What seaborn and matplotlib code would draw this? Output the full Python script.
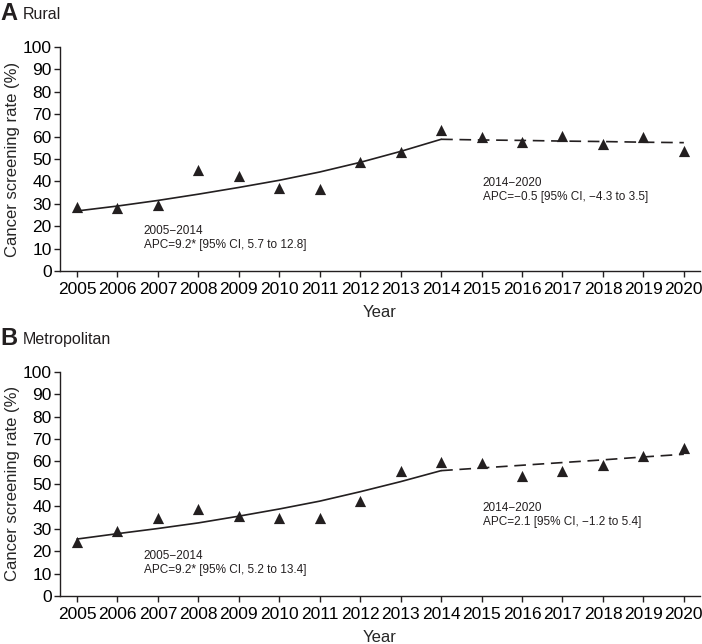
import numpy as np
import pandas as pd
import matplotlib
matplotlib.use("Agg")
import matplotlib.pyplot as plt
import seaborn as sns

years = list(range(2005, 2021))
rural_obs = [28.7, 28.1, 29.6, 44.9, 42.5, 37.2, 36.6, 48.7,
             53.0, 62.9, 59.7, 57.7, 60.4, 56.7, 60.0, 53.6]
metro_obs = [23.9, 29.0, 34.6, 38.8, 35.8, 34.9, 34.9, 42.4,
             55.9, 59.6, 59.4, 53.5, 55.9, 58.5, 62.5, 65.8]

# joinpoint fitted lines
seg1_years = list(range(2005, 2015))
seg2_years = list(range(2014, 2021))
rural_fit1 = [26.8, 29.0, 31.5, 34.3, 37.3, 40.5, 44.2, 48.5, 53.4, 58.8]
rural_fit2 = [58.8, 58.5, 58.3, 58.0, 57.8, 57.5, 57.3]
metro_fit1 = [25.4, 27.8, 30.1, 32.6, 35.6, 38.8, 42.3, 46.5, 51.0, 55.9]
metro_fit2 = [55.9, 57.1, 58.3, 59.5, 60.7, 62.0, 63.2]

panels = [
    ("A", "Rural", rural_obs, rural_fit1, rural_fit2,
     "2005\u22122014\nAPC=9.2* [95% CI, 5.7 to 12.8]",
     "2014\u22122020\nAPC=\u22120.5 [95% CI, \u22124.3 to 3.5]"),
    ("B", "Metropolitan", metro_obs, metro_fit1, metro_fit2,
     "2005\u22122014\nAPC=9.2* [95% CI, 5.2 to 13.4]",
     "2014\u22122020\nAPC=2.1 [95% CI, \u22121.2 to 5.4]"),
]

sns.set_style("ticks")
plt.rcParams['font.family'] = ['Liberation Sans', 'DejaVu Sans']
ink = "#231f20"

fig = plt.figure(figsize=(7.02, 6.44), dpi=100)
axes_pos = [[0.0855, 0.5792, 0.9117, 0.3478],
            [0.0855, 0.0745, 0.9117, 0.3483]]
title_y = [0.979, 0.475]

for pos, ty, (letter, name, obs, fit1, fit2, txt1, txt2) in zip(axes_pos, title_y, panels):
    ax = fig.add_axes(pos)
    df = pd.DataFrame({"year": years, "rate": obs})
    sns.lineplot(x=seg1_years, y=fit1, ax=ax, color=ink, lw=1.2)
    sns.lineplot(x=seg2_years, y=fit2, ax=ax, color=ink, lw=1.2,
                 linestyle=(0, (7, 4)))
    sns.scatterplot(data=df, x="year", y="rate", ax=ax, marker="^",
                    s=65, color=ink, edgecolor=ink, linewidth=0, zorder=3)

    ax.set_xlim(2004.58, 2020.4)
    ax.set_ylim(0, 100)
    ax.set_xticks(years)
    ax.set_yticks(range(0, 101, 10))
    ax.tick_params(axis='both', labelsize=12.5, colors=ink, length=4,
                   width=1, labelcolor="black")
    ax.tick_params(axis='y', pad=2)
    ax.tick_params(axis='x', pad=4)
    for s in ["left", "bottom"]:
        ax.spines[s].set_color(ink)
        ax.spines[s].set_linewidth(1)
    sns.despine(ax=ax)
    ax.set_xlabel("Year", fontsize=12, labelpad=6)
    ax.set_ylabel("Cancer screening rate (%)", fontsize=12, labelpad=2)

    ax.text(2006.65, 14.8, txt1, fontsize=8.5, va="center", ha="left",
            color=ink, linespacing=1.25)
    ax.text(2015.03, 36.1, txt2, fontsize=8.5, va="center", ha="left",
            color=ink, linespacing=1.25)

    fig.text(0.0, ty, letter, fontsize=17, fontweight="bold", va="center",
             ha="left", color=ink)
    fig.text(0.032, ty - 0.002, name, fontsize=11.5, va="center", ha="left",
             color=ink)

fig.savefig("out.png", dpi=100)
